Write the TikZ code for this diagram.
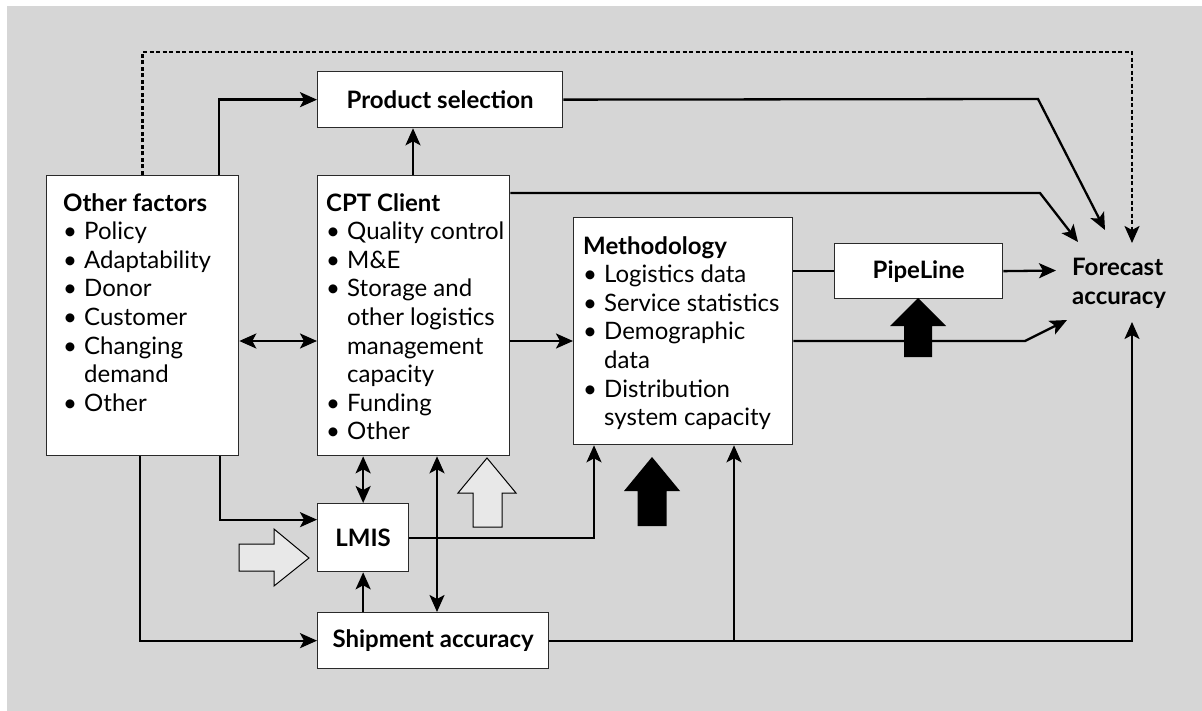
\documentclass[tikz,border=0pt]{standalone}
\usepackage{fontspec}
\setmainfont{Lato}
\usetikzlibrary{arrows.meta}

\definecolor{panel}{HTML}{D6D6D6}
\definecolor{pale}{HTML}{E8E8E8}
\definecolor{edge}{HTML}{2A2A2A}

% bullet item and continuation line inside the list boxes
\newcommand\bul{\makebox[21pt][l]{\textbullet}}
\newcommand\cont{\hspace*{21pt}}

\tikzset{
  box/.style={draw=edge, line width=1.3pt, fill=white, rectangle, inner sep=0pt, anchor=north west},
  titled/.style={font=\fontsize{24}{29}\selectfont\bfseries},
  listtext/.style={inner sep=0pt, anchor=north west, align=left, font=\fontsize{24}{28.6}\selectfont},
  tip/.style={-{Stealth[length=17pt,width=15pt,inset=4pt]}},
  link/.style={line width=2.3pt, tip},
  twoway/.style={line width=2.3pt, {Stealth[length=17pt,width=15pt,inset=4pt]}-{Stealth[length=17pt,width=15pt,inset=4pt]}},
  plain/.style={line width=2.3pt},
  dotlink/.style={line width=2.4pt, dash pattern=on 4pt off 2.5pt, tip},
  solidblock/.style={fill=black},
  paleblock/.style={fill=pale, draw=black, line width=1pt},
}

\begin{document}
\begin{tikzpicture}[x=1pt, y=-1pt]
\useasboundingbox (0,0) rectangle (1202,711);
\fill[panel] (7,6) rectangle (1202,711);

% boxes
\node[box, minimum width=192pt, minimum height=280pt] (of) at (46,175) {};
\node[box, minimum width=192pt, minimum height=280pt] (cpt) at (317,175) {};
\node[box, minimum width=219pt, minimum height=227pt] (meth) at (573,217) {};
\node[box, titled, minimum width=245pt, minimum height=56pt] (ps) at (317,71) {Product selection};
\node[box, titled, minimum width=168pt, minimum height=55pt] (pipe) at (834,243) {PipeLine};
\node[box, titled, minimum width=91pt, minimum height=68pt] (lmis) at (317,503) {LMIS};
\node[box, titled, minimum width=231pt, minimum height=56pt] (ship) at (317,612) {Shipment accuracy};

% box contents
\node[listtext] (oftext) at (63,193) {\textbf{Other factors}\\
  \bul Policy\\ \bul Adaptability\\ \bul Donor\\ \bul Customer\\
  \bul Changing\\ \cont demand\\ \bul Other};
\node[listtext] (cpttext) at (326,193) {\textbf{CPT Client}\\
  \bul Quality control\\ \bul M\&E\\ \bul Storage and\\ \cont other logistics\\
  \cont management\\ \cont capacity\\ \bul Funding\\ \bul Other};
\node[listtext] (methtext) at (583,236) {\textbf{Methodology}\\
  \bul Logistics data\\ \bul Service statistics\\ \bul Demographic\\ \cont data\\
  \bul Distribution\\ \cont system capacity};

% outcome
\node[titled, inner sep=0pt, anchor=west, align=left] (fa) at (1072,283) {Forecast\\accuracy};

% arrow ends around the outcome
\coordinate (dtop) at (1132,52);
\coordinate (faN) at (1132,243);
\coordinate (faPS) at (1105,230);
\coordinate (faCPT) at (1078,242);
\coordinate (faPipe) at (1056,270.5);
\coordinate (faMeth) at (1067,320);
\coordinate (faS) at (1132,322);
\coordinate (bendPS) at (1038,99);
\coordinate (bendCPT) at (1040,193);
\coordinate (bendMeth) at (1025,341);
\coordinate (row) at (0,341);
\coordinate (jn) at (734,640);

% connectors
\draw[dotlink] (of.north) |- (dtop) -- (faN);
\draw[link] ([xshift=173pt]of.north west) |- (ps.west);
\draw[link] ([xshift=96pt]cpt.north west) -- ([xshift=96pt]cpt.north west |- ps.south);
\draw[link] (ps.east) -- (bendPS) -- (faPS);
\draw[link] ([yshift=-18pt]cpt.north east) -- (bendCPT) -- (faCPT);
\draw[plain] (meth.east |- pipe.west) -- (pipe.west);
\draw[link] (pipe.east) -- (faPipe);
\draw[link] (meth.east |- row) -- (bendMeth) -- (faMeth);
\draw[twoway] (of.east |- row) -- (cpt.west |- row);
\draw[link] (cpt.east |- row) -- (meth.west |- row);
\draw[link] ([xshift=174pt]of.south west) |- ([yshift=18pt]lmis.west);
\draw[link] ([xshift=94pt]of.south west) |- (ship.west);
\draw[twoway] (lmis.north) -- (lmis.north |- cpt.south);
\draw[link] (lmis.south |- ship.north) -- (lmis.south);
\draw[twoway] ([xshift=120pt]ship.north west) -- ([xshift=120pt]ship.north west |- cpt.south);
\draw[link] (lmis.east) -| ([xshift=21pt]meth.south west);
\draw[link] (ship.east) -| (faS);
\draw[link] (jn) -- (jn |- meth.south);

% block arrows
\fill[solidblock] (918,298) -- (946,326) -- (932,326) -- (932,357) -- (904,357) -- (904,326) -- (890,326) -- cycle;
\fill[solidblock] (652,457) -- (680,491) -- (666.5,491) -- (666.5,526) -- (637.5,526) -- (637.5,491) -- (624,491) -- cycle;
\filldraw[paleblock] (487,458) -- (516,493) -- (502,493) -- (502,527) -- (473,527) -- (473,493) -- (458,493) -- cycle;
\filldraw[paleblock] (309,558) -- (274,586) -- (274,571) -- (239,571) -- (239,544) -- (274,544) -- (274,529) -- cycle;
\end{tikzpicture}
\end{document}
